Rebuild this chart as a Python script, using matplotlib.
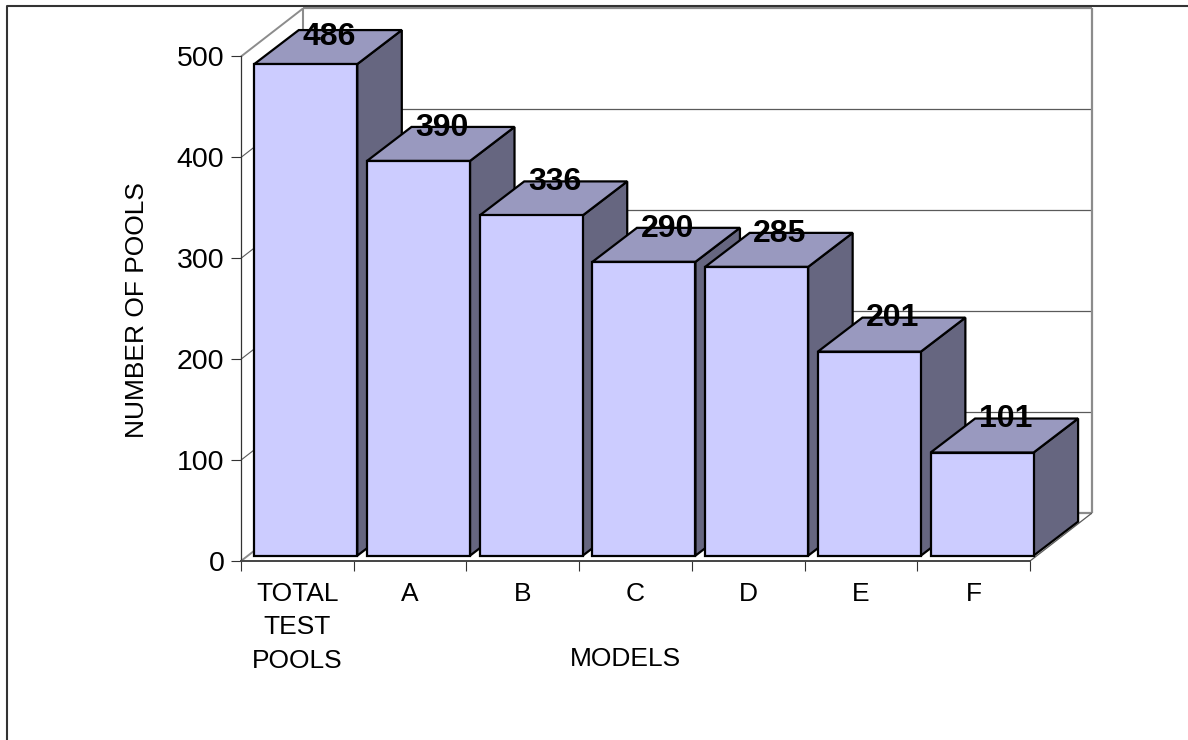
import matplotlib
matplotlib.use("Agg")
import matplotlib.pyplot as plt
from matplotlib.lines import Line2D
from matplotlib.patches import Polygon

plt.rcParams['font.family'] = ['Liberation Sans', 'DejaVu Sans']

categories = ["TOTAL\nTEST\nPOOLS", "A", "B", "C", "D", "E", "F"]
values = [486, 390, 336, 290, 285, 201, 101]
y_ticks = [0, 100, 200, 300, 400, 500]
x_title = "MODELS"
y_title = "NUMBER OF POOLS"

W, H = 1188, 740
L, R, B, T = 241, 1030, 561, 56.5
fig = plt.figure(figsize=(W / 100, H / 100), dpi=100, facecolor="white")
ax = fig.add_axes([L / W, 1 - B / H, (R - L) / W, (B - T) / H])
ax.set_xlim(0, len(categories))
ax.set_ylim(0, 500)
ax.patch.set_visible(False)

px = len(categories) / (R - L)      # data units per pixel, x
py = 500 / (B - T)                  # data units per pixel, y
wall_dx, wall_dy = 62 * px, 48 * py
bar_dx, bar_dy = 44.5 * px, 34 * py
bar_w = 103 * px
bar_off = 13.3 * px
base = 5.3
lift = 6.5

GRID = "#5a5a5a"
WALL = "#8c8c8c"
def seg(xs, ys, c, lw, z=1):
    ax.add_line(Line2D(xs, ys, color=c, lw=lw, clip_on=False, zorder=z, solid_capstyle="butt"))

# back wall and side wall gridlines
for v in y_ticks[1:-1]:
    seg([0, wall_dx], [v, v + wall_dy], GRID, 0.8)
    seg([wall_dx, len(categories) + wall_dx], [v + wall_dy] * 2, GRID, 0.9)
seg([0, wall_dx], [500, 500 + wall_dy], WALL, 1.4)
seg([wall_dx, len(categories) + wall_dx], [500 + wall_dy] * 2, WALL, 1.6)
seg([wall_dx, wall_dx], [wall_dy, 500 + wall_dy], WALL, 1.5)
seg([len(categories) + wall_dx] * 2, [wall_dy, 500 + wall_dy], WALL, 1.6)
seg([wall_dx, len(categories) + wall_dx], [wall_dy, wall_dy], WALL, 1.6)
seg([0, wall_dx], [0, wall_dy], WALL, 1.4)
seg([len(categories), len(categories) + wall_dx], [0, wall_dy], GRID, 0.9)

# 3D bars
for i, v in enumerate(values):
    x0 = i + bar_off
    x1 = x0 + bar_w
    top = v + lift
    kw = dict(edgecolor="black", linewidth=1.6, joinstyle="miter", clip_on=False, zorder=2 + i)
    ax.add_patch(Polygon([(x1, base), (x1 + bar_dx, base + bar_dy), (x1 + bar_dx, top + bar_dy), (x1, top)],
                         facecolor="#666680", **kw))
    ax.add_patch(Polygon([(x0, top), (x1, top), (x1 + bar_dx, top + bar_dy), (x0 + bar_dx, top + bar_dy)],
                         facecolor="#9999BF", **kw))
    ax.add_patch(Polygon([(x0, base), (x1, base), (x1, top), (x0, top)],
                         facecolor="#CCCCFF", **kw))
    ax.text(x0 + bar_w / 2 + bar_dx / 2 + 1 * px, min(v + 39.5, 519), str(v), ha="center", va="center",
            fontsize=23, fontweight="bold", color="black", zorder=20, clip_on=False)

# axes
for s in ("top", "right"):
    ax.spines[s].set_visible(False)
ax.spines["left"].set_color("#333333")
ax.spines["left"].set_linewidth(0.9)
ax.spines["bottom"].set_color("#444444")
ax.spines["bottom"].set_linewidth(1.4)
ax.spines["bottom"].set_zorder(30)

ax.set_yticks(y_ticks)
ax.tick_params(axis="y", length=7.5, width=0.8, color="#333333", labelsize=20.5, pad=4.5)
ax.set_xticks(range(len(categories) + 1))
ax.set_xticklabels([])
ax.tick_params(axis="x", which="major", length=7.5, width=0.8, color="#333333")
ax.set_xticks([i + 0.5 for i in range(len(categories))], minor=True)
ax.set_xticklabels(categories, minor=True, fontsize=19, linespacing=1.5, va="top")
ax.tick_params(axis="x", which="minor", length=0, pad=15)

fig.text(625 / W, 1 - 659 / H, x_title, ha="center", va="center", fontsize=19)
fig.text(136.5 / W, 1 - 310 / H, y_title, ha="center", va="center", rotation=90, fontsize=19)

# outer chart border (left and top edges visible)
fig.add_artist(Line2D([6.5 / W, 6.5 / W, 1], [0, 1 - 6 / H, 1 - 6 / H], color="#333333", lw=1.5))

fig.savefig("out.png", dpi=100)
